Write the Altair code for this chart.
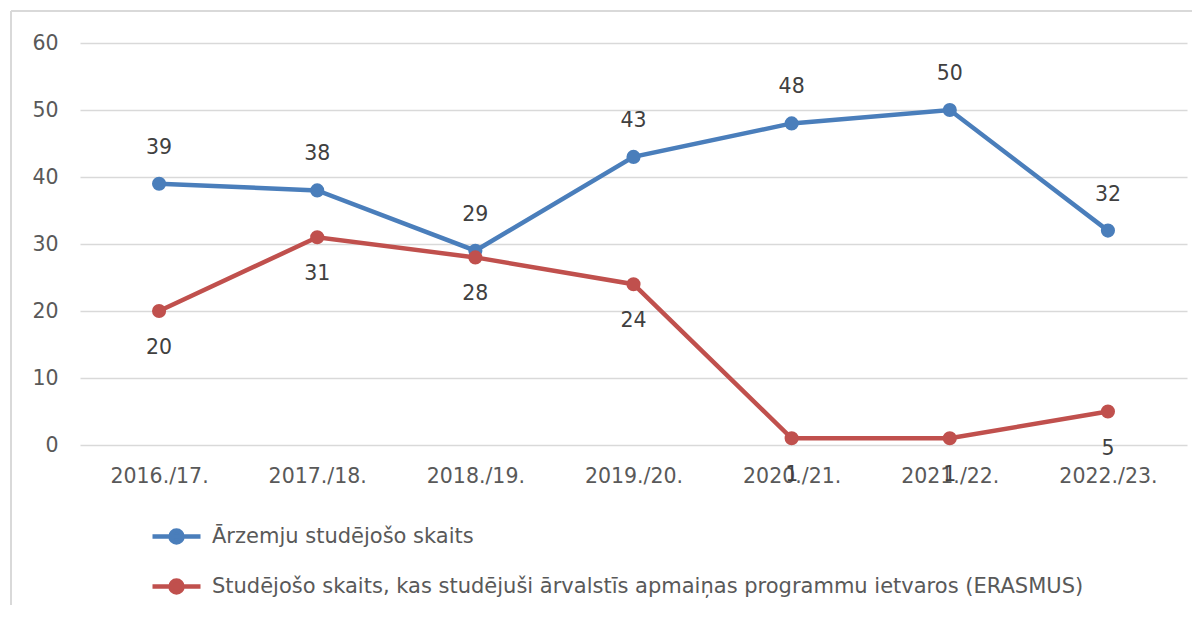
import altair as alt
import pandas as pd

years = ["2016./17.", "2017./18.", "2018./19.", "2019./20.", "2020./21.", "2021./22.", "2022./23."]
series_names = ["Ārzemju studējošo skaits",
                "Studējošo skaits, kas studējuši ārvalstīs apmaiņas programmu ietvaros (ERASMUS)"]
foreign = [39, 38, 29, 43, 48, 50, 32]
erasmus = [20, 31, 28, 24, 1, 1, 5]
colors = ["#4A7EBB", "#C0504D"]

rows = []
for y, a, b in zip(years, foreign, erasmus):
    rows.append({"year": y, "series": series_names[0], "value": a})
    rows.append({"year": y, "series": series_names[1], "value": b})
df = pd.DataFrame(rows)

FONT = "DejaVu Sans"
TXT = "#595959"
FS = 20.5

x_enc = alt.X("year:N", sort=years, title=None,
              scale=alt.Scale(type="point", padding=0.5),
              axis=alt.Axis(labelAngle=0, domain=False, ticks=False, grid=False,
                            labelPadding=21, labelFontSize=FS, labelFont=FONT,
                            labelColor=TXT))
y_enc = alt.Y("value:Q", title=None,
              scale=alt.Scale(domain=[0, 60], nice=False),
              axis=alt.Axis(values=[0, 10, 20, 30, 40, 50, 60], domain=False, ticks=False,
                            gridColor="#D9D9D9", gridWidth=1.3, labelPadding=22,
                            labelFontSize=FS, labelFont=FONT, labelColor=TXT))

legend = alt.Legend(title=None, orient="none", legendX=70, legendY=467, direction="vertical",
                    padding=0, rowPadding=8, labelFontSize=21, labelFont=FONT,
                    labelColor=TXT, labelLimit=2000, labelOffset=9,
                    symbolType="M-1,0L1,0M0.25,0A0.25,0.25,0,1,1,-0.25,0A0.25,0.25,0,1,1,0.25,0Z",
                    symbolSize=2304, symbolStrokeWidth=4.5)
cscale = alt.Scale(domain=series_names, range=colors)

base = alt.Chart(df)

lines = base.mark_line(strokeWidth=4.5).encode(
    x=x_enc, y=y_enc,
    stroke=alt.Stroke("series:N", scale=cscale, legend=legend, sort=series_names),
    detail="series:N",
)
points = base.mark_point(filled=True, size=200, opacity=1).encode(
    x=x_enc, y=y_enc,
    fill=alt.Fill("series:N", scale=cscale, legend=legend, sort=series_names),
)
labels_top = base.transform_filter(alt.datum.series == series_names[0]).mark_text(
    dy=-36, fontSize=FS, font=FONT, color="#404040").encode(
    x=x_enc, y=y_enc, text="value:Q")
labels_bot = base.transform_filter(alt.datum.series == series_names[1]).mark_text(
    dy=37, fontSize=FS, font=FONT, color="#404040").encode(
    x=x_enc, y=y_enc, text="value:Q")

frame_left = alt.Chart(pd.DataFrame({"a": [0]})).mark_rule(color="#D9D9D9", strokeWidth=2).encode(
    x=alt.value(-69), y=alt.value(-32), y2=alt.value(700))
frame_top = alt.Chart(pd.DataFrame({"a": [0]})).mark_rule(color="#D9D9D9", strokeWidth=2).encode(
    x=alt.value(-69), x2=alt.value(1300), y=alt.value(-32))

chart = alt.layer(frame_left, frame_top, lines, points, labels_top, labels_bot).properties(
    width=1107, height=402,
    background="white",
    autosize=alt.AutoSizeParams(type="none"),
    padding={"left": 72, "top": 35, "right": 5, "bottom": 160},
).configure_view(strokeWidth=0, stroke="transparent")

chart.save("out.html", embed_options={"renderer": "svg", "actions": False})
